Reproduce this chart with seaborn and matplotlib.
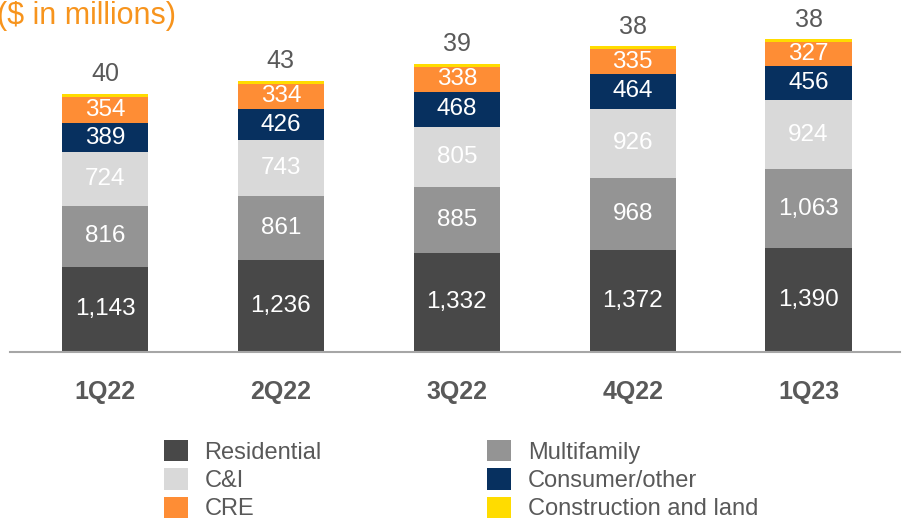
import numpy as np
import pandas as pd
import matplotlib
matplotlib.use("Agg")
import matplotlib.pyplot as plt
import seaborn as sns
from matplotlib.patches import Patch

# Loan portfolio by type, $ in millions
quarters = ["1Q22", "2Q22", "3Q22", "4Q22", "1Q23"]
residential = [1143, 1236, 1332, 1372, 1390]
multifamily = [816, 861, 885, 968, 1063]
c_and_i = [724, 743, 805, 926, 924]
consumer = [389, 426, 468, 464, 456]
cre = [354, 334, 338, 335, 327]
construction = [40, 43, 39, 38, 38]

segments = ["Residential", "Multifamily", "C&I", "Consumer/other", "CRE", "Construction and land"]
seg_values = [residential, multifamily, c_and_i, consumer, cre, construction]
seg_colors = ["#484848", "#949494", "#d9d9d9", "#07305f", "#fe8d35", "#ffdc00"]

sns.set_theme(style="white")
plt.rcParams["font.family"] = ["Liberation Sans", "DejaVu Sans"]

fig = plt.figure(figsize=(9.02, 5.19), dpi=100)
ax = fig.add_axes([10 / 902, 167 / 519, 890 / 902, 352 / 519])

df = pd.DataFrame({"quarter": quarters})
bottom = np.zeros(len(quarters))
for name, vals, col in zip(segments, seg_values, seg_colors):
    df[name] = vals
    sns.barplot(data=df, x="quarter", y=name, color=col, width=0.49,
                bottom=bottom, ax=ax, saturation=1, edgecolor="none")
    # labels
    for i, v in enumerate(vals):
        if name == "Construction and land":
            ax.annotate(f"{v:,}", (i, bottom[i] + v), xytext=(0, 9),
                        textcoords="offset points", ha="center", va="baseline",
                        fontsize=18, color="#595959")
        else:
            ax.text(i, bottom[i] + v / 2, f"{v:,}", ha="center", va="center",
                    fontsize=17.5, color="white")
    bottom = bottom + np.array(vals)

ax.set_xlim(-0.54, 4.52)
ax.set_ylim(0, 4725)
ax.set_xlabel("")
ax.set_ylabel("")
ax.set_yticks([])
for s in ["top", "left", "right"]:
    ax.spines[s].set_visible(False)
ax.spines["bottom"].set_color("#a6a6a6")
ax.spines["bottom"].set_linewidth(1.5)
ax.tick_params(axis="x", length=0, pad=20, labelsize=18, labelcolor="#595959")
for t in ax.get_xticklabels():
    t.set_fontweight("bold")

fig.text(-3 / 902, 1 - 1 / 519, "($ in millions)", ha="left", va="top",
         fontsize=22, color="#f7941d")

# legend fills column-wise
order = [0, 2, 4, 1, 3, 5]
handles = [Patch(facecolor=seg_colors[k], edgecolor="none") for k in order]
labels = [segments[k] for k in order]
fig.legend(handles, labels, ncol=2, loc="upper left",
           bbox_to_anchor=(164 / 902, 1 - 440 / 519), frameon=False,
           fontsize=17, handlelength=1.0, handleheight=1.0,
           handletextpad=0.72, columnspacing=7.0, labelspacing=0.2,
           borderpad=0, borderaxespad=0, labelcolor="#595959")

fig.savefig("out.png", dpi=100)
